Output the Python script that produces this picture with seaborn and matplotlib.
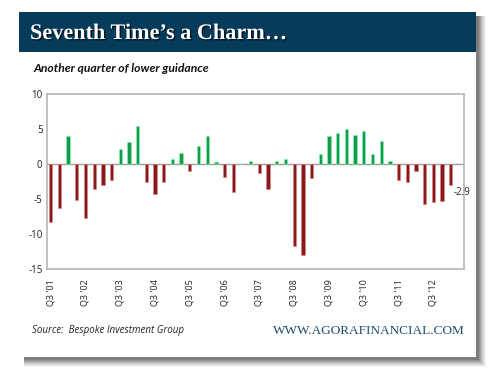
import matplotlib
matplotlib.use("Agg")
import matplotlib.pyplot as plt
import matplotlib.patches as mpatches
import matplotlib.patheffects as pe
import seaborn as sns
import pandas as pd

# ---- data ----
years = ["01", "02", "03", "04", "05", "06", "07", "08", "09", "10", "11", "12", "13"]
quarter_labels = []
for i, y in enumerate(years):
    for q in (["Q3", "Q4"] if i == 0 else ["Q1", "Q2", "Q3", "Q4"]):
        quarter_labels.append(f"{q} '{y}")
quarter_labels = quarter_labels[:47]

values = [-8.3, -6.2, 4.0, -5.1, -7.7, -3.5, -2.9, -2.2, 2.2, 3.2, 5.4, -2.5,
          -4.3, -2.5, 0.7, 1.6, -0.9, 2.6, 4.0, 0.3, -1.8, -3.9, 0.1, 0.5,
          -1.3, -3.6, 0.5, 0.8, -11.6, -13.0, -1.9, 1.5, 4.0, 4.4, 5.0, 4.2,
          4.7, 1.5, 3.3, 0.5, -2.2, -2.5, -1.0, -5.7, -5.4, -5.3, -2.9]
tick_labels = ["Q3 '01", "Q3 '02", "Q3 '03", "Q3 '04", "Q3 '05", "Q3 '06",
               "Q3 '07", "Q3 '08", "Q3 '09", "Q3 '10", "Q3 '11", "Q3 '12"]
y_ticks = [10, 5, 0, -5, -10, -15]

title = "Seventh Time\u2019s a Charm\u2026"
subtitle = "Another quarter of lower guidance"
source = "Source:  Bespoke Investment Group"
site = "WWW.AGORAFINANCIAL.COM"

RED = "#851A1E"
GREEN = "#17994A"
NAVY = "#073B5A"

df = pd.DataFrame({"quarter": quarter_labels, "value": values})
df["sign"] = ["pos" if v >= 0 else "neg" for v in values]

sns.set_style("white")
plt.rcParams["font.family"] = ["Open Sans", "DejaVu Sans"]

W, H = 500, 379
fig = plt.figure(figsize=(5, 3.79), dpi=100)
fig.patch.set_facecolor("white")

def fx(x):
    return x / W

def fy(y):
    return 1 - y / H

# shadow for the card (right and bottom)
for k, a in enumerate([0.04, 0.05, 0.06, 0.07, 0.08, 0.10, 0.12, 0.14]):
    off = 10 - k
    fig.patches.append(mpatches.Rectangle((fx(24), fy(357 + off)),
                                          fx(452 + off), (357 - 16 + off) / H,
                                          transform=fig.transFigure, facecolor="black",
                                          edgecolor="none", alpha=a, zorder=0))
# card
fig.patches.append(mpatches.Rectangle((fx(19), fy(357)), fx(457), 345 / H,
                                      transform=fig.transFigure, facecolor="white",
                                      edgecolor="none", zorder=1))
# header band
fig.patches.append(mpatches.Rectangle((fx(19), fy(52)), fx(457), 40 / H,
                                      transform=fig.transFigure, facecolor=NAVY,
                                      edgecolor="none", zorder=2))

t = fig.text(fx(30), fy(34), title, color="white", fontsize=16,
             family=["Liberation Serif", "DejaVu Serif"], fontweight="bold",
             va="center", ha="left", zorder=3)
t.set_path_effects([pe.withSimplePatchShadow(offset=(1, -1), shadow_rgbFace="black", alpha=0.7)])

fig.text(fx(33), fy(69), subtitle, color="#111111", fontsize=8.7,
         family=["Lato", "DejaVu Sans"], fontweight="bold", fontstyle="italic",
         va="center", ha="left", zorder=3)

ax = fig.add_axes([fx(46.7), fy(269.3), fx(464.3 - 46.7), (269.3 - 94.3) / H])
ax.set_zorder(4)
sns.barplot(data=df, x="quarter", y="value", hue="sign",
            palette={"pos": GREEN, "neg": RED}, dodge=False, width=0.38,
            legend=False, ax=ax, linewidth=0.4, edgecolor="#e8c8c8", saturation=1)
for p in ax.patches:
    fc = p.get_facecolor()
    p.set_edgecolor((min(fc[0] + 0.4, 1), min(fc[1] + 0.4, 1), min(fc[2] + 0.4, 1), 1))

ax.axhline(0, color="#9a9a9a", lw=1.0, zorder=0.5)
ax.set_ylim(-15, 10)
ax.set_xlim(-0.46, len(values) - 1 + 1.56)
ax.set_yticks(y_ticks)
ax.set_yticklabels([str(v) for v in y_ticks], fontsize=7, color="#222222")
ax.set_xticks(range(0, 47, 4)[:len(tick_labels)])
ax.set_xticklabels(tick_labels, rotation=90, fontsize=6.5, color="#222222")
ax.tick_params(axis="both", length=0, pad=3)
ax.tick_params(axis="x", pad=7)
ax.set_xlabel("")
ax.set_ylabel("")
for s in ax.spines.values():
    s.set_color("#b5b5b5")
    s.set_linewidth(1.2)

ax.annotate("-2.9", xy=(len(values) - 1, values[-1]), xytext=(2, -6),
            textcoords="offset points", fontsize=7, color="#222222",
            ha="left", va="center")

fig.text(fx(32), fy(331), source, fontsize=7, fontstyle="italic",
         color="#222222", va="center", ha="left", zorder=3)
fig.text(fx(465), fy(331), site, fontsize=9.5, color="#1d4d6e",
         family=["Liberation Serif", "DejaVu Serif"], va="center", ha="right", zorder=3)

fig.savefig("out.png", dpi=100)
